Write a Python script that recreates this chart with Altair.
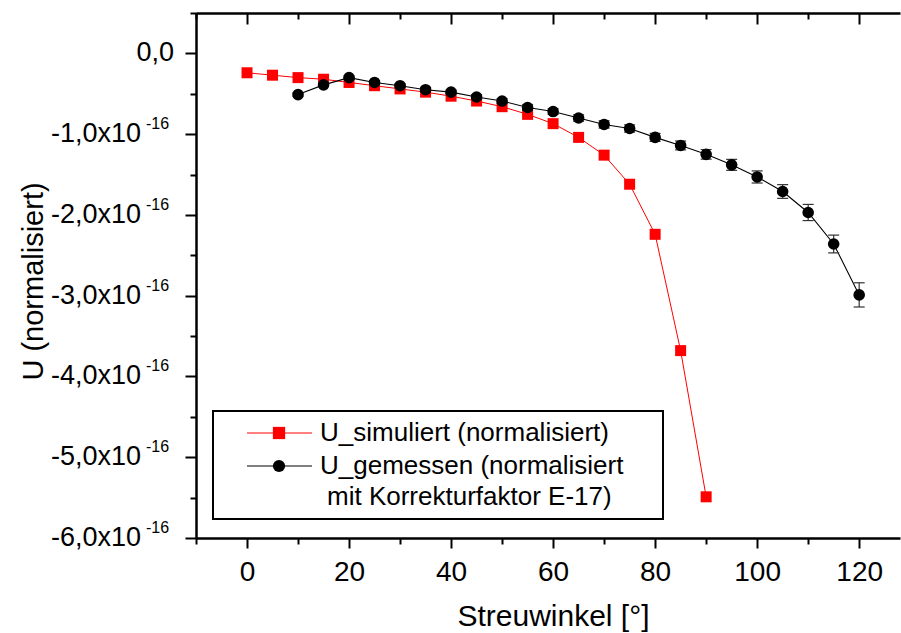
import altair as alt
import pandas as pd

FONT = "Liberation Sans"

# ---- data (values in units of 1e-16) ----
sim_angle = [0, 5, 10, 15, 20, 25, 30, 35, 40, 45, 50, 55, 60, 65, 70, 75, 80, 85, 90]
sim_u = [-0.24, -0.27, -0.30, -0.32, -0.36, -0.40, -0.44, -0.48, -0.53, -0.59,
         -0.66, -0.755, -0.87, -1.04, -1.26, -1.62, -2.24, -3.68, -5.49]

gem_angle = [10, 15, 20, 25, 30, 35, 40, 45, 50, 55, 60, 65, 70, 75, 80, 85, 90,
             95, 100, 105, 110, 115, 120]
gem_u = [-0.51, -0.39, -0.30, -0.36, -0.40, -0.45, -0.48, -0.54, -0.59, -0.67,
         -0.72, -0.80, -0.88, -0.93, -1.04, -1.14, -1.25, -1.38, -1.53, -1.71,
         -1.97, -2.36, -2.99]
gem_err = [0.02, 0.02, 0.02, 0.02, 0.02, 0.025, 0.025, 0.03, 0.03, 0.035, 0.035,
           0.04, 0.045, 0.045, 0.05, 0.055, 0.06, 0.068, 0.075, 0.085, 0.10,
           0.11, 0.15]

x_major = [0, 20, 40, 60, 80, 100, 120]
x_minor = [-10, 10, 30, 50, 70, 90, 110]
y_major = [0, -1, -2, -3, -4, -5, -6]
y_minor = [0.5, -0.5, -1.5, -2.5, -3.5, -4.5, -5.5]
y_zero_label = ["0,0"]
y_main_labels = ["-1,0x10", "-2,0x10", "-3,0x10", "-4,0x10", "-5,0x10", "-6,0x10"]
y_exp_label = "-16"

legend_labels = ["U_simuliert (normalisiert)", "U_gemessen (normalisiert", "mit Korrekturfaktor E-17)"]

sim = pd.DataFrame({"angle": sim_angle, "u": sim_u})
gem = pd.DataFrame({"angle": gem_angle, "u": gem_u, "err": gem_err})

W, H = 704, 525
xs = alt.Scale(domain=[-10, 128], nice=False, zero=False)
ys = alt.Scale(domain=[-6, 0.5], nice=False, zero=False)

ax_common = dict(domainColor="black", tickColor="black", domainWidth=2.5, tickWidth=2,
                 labelColor="black", grid=False)

x_major_axis = alt.Axis(orient="bottom", values=x_major, tickSize=10, labelPadding=10,
                        labelFontSize=28, labelFont=FONT, title="Streuwinkel [°]",
                        titleFont=FONT, titleFontSize=30, titleFontWeight="normal",
                        titleColor="black", titleX=357, titleY=87, titleBaseline="alphabetic",
                        titleAlign="center", **ax_common)
x_minor_axis = alt.Axis(orient="bottom", values=x_minor, tickSize=6, labels=False,
                        domain=False, title=None, **ax_common)
x_top_major = alt.Axis(orient="bottom", offset=-H, values=x_major, tickSize=11, labels=False,
                       title=None, **ax_common)
x_top_minor = alt.Axis(orient="bottom", offset=-H, values=x_minor, tickSize=6, labels=False,
                       domain=False, title=None, **ax_common)
y_major_axis = alt.Axis(orient="left", values=y_major, tickSize=11, labels=False,
                        title="U (normalisiert)", titleFont=FONT, titleFontSize=29,
                        titleFontWeight="normal", titleColor="black", titleAngle=270,
                        titleX=-154, titleY=268, titleBaseline="alphabetic",
                        titleAlign="center", **ax_common)
y_minor_axis = alt.Axis(orient="left", values=y_minor, tickSize=6, labels=False,
                        domain=False, title=None, **ax_common)

RED = "#ff0000"

red_line = alt.Chart(sim).mark_line(color=RED, strokeWidth=1).encode(
    x=alt.X("angle:Q", scale=xs, axis=x_major_axis),
    y=alt.Y("u:Q", scale=ys, axis=y_major_axis))
red_pts = alt.Chart(sim).mark_square(color=RED, opacity=1, size=121).encode(
    x=alt.X("angle:Q", scale=xs, axis=x_minor_axis),
    y=alt.Y("u:Q", scale=ys, axis=y_minor_axis))
blk_line = alt.Chart(gem).mark_line(color="black", strokeWidth=1.1).encode(
    x=alt.X("angle:Q", scale=xs, axis=x_top_major),
    y=alt.Y("u:Q", scale=ys, axis=None))
err_base = alt.Chart(gem).transform_calculate(
    lo="datum.u - datum.err", hi="datum.u + datum.err")
err_rule = err_base.mark_rule(color="#333333", strokeWidth=1.2).encode(
    x=alt.X("angle:Q", scale=xs, axis=None),
    y=alt.Y("lo:Q", scale=ys, axis=None), y2="hi:Q")
cap_lo = err_base.mark_tick(color="#333333", orient="horizontal", size=11, thickness=1.2, opacity=1).encode(
    x=alt.X("angle:Q", scale=xs, axis=None),
    y=alt.Y("lo:Q", scale=ys, axis=None))
cap_hi = err_base.mark_tick(color="#333333", orient="horizontal", size=11, thickness=1.2, opacity=1).encode(
    x=alt.X("angle:Q", scale=xs, axis=None),
    y=alt.Y("hi:Q", scale=ys, axis=None))
blk_pts = alt.Chart(gem).mark_circle(color="black", opacity=1, size=135).encode(
    x=alt.X("angle:Q", scale=xs, axis=x_top_minor),
    y=alt.Y("u:Q", scale=ys, axis=None))

# ---- y tick labels as text ----
lab0 = alt.Chart(pd.DataFrame({"v": y_major[:1], "t": y_zero_label})).mark_text(
    align="right", baseline="middle", fontSize=27, font=FONT, color="black").encode(
    x=alt.value(-22), y=alt.Y("v:Q", scale=ys, axis=None), text="t:N")
lab_df = pd.DataFrame({"v": y_major[1:], "t": y_main_labels, "e": [y_exp_label] * len(y_main_labels)})
lab_main = alt.Chart(lab_df).mark_text(
    align="right", baseline="middle", fontSize=27, font=FONT, color="black").encode(
    x=alt.value(-55), y=alt.Y("v:Q", scale=ys, axis=None), text="t:N")
lab_exp = alt.Chart(lab_df).mark_text(
    align="left", baseline="middle", fontSize=16, font=FONT, color="black", dy=-10).encode(
    x=alt.value(-50), y=alt.Y("v:Q", scale=ys, axis=None), text="e:N")

# ---- legend (drawn manually) ----
one = pd.DataFrame({"k": [0]})
leg_box = alt.Chart(one).mark_rect(fill="white", stroke="black", strokeWidth=2).encode(
    x=alt.value(17), x2=alt.value(467), y=alt.value(398), y2=alt.value(506))
leg_red_line = alt.Chart(one).mark_rule(color=RED, strokeWidth=1).encode(
    x=alt.value(51), x2=alt.value(116), y=alt.value(420))
leg_red_pt = alt.Chart(one).mark_square(color=RED, opacity=1, size=150).encode(
    x=alt.value(83), y=alt.value(420))
leg_blk_line = alt.Chart(one).mark_rule(color="black", strokeWidth=1).encode(
    x=alt.value(51), x2=alt.value(116), y=alt.value(453))
leg_blk_pt = alt.Chart(one).mark_circle(color="black", opacity=1, size=150).encode(
    x=alt.value(83), y=alt.value(453))
leg_t1 = alt.Chart(pd.DataFrame({"t": [legend_labels[0]]})).mark_text(
    align="left", baseline="middle", fontSize=26, font=FONT, color="black").encode(
    x=alt.value(124), y=alt.value(420), text="t:N")
leg_t2 = alt.Chart(pd.DataFrame({"t": [legend_labels[1]]})).mark_text(
    align="left", baseline="middle", fontSize=26, font=FONT, color="black").encode(
    x=alt.value(124), y=alt.value(453), text="t:N")
leg_t3 = alt.Chart(pd.DataFrame({"t": [legend_labels[2]]})).mark_text(
    align="left", baseline="middle", fontSize=26, font=FONT, color="black").encode(
    x=alt.value(131), y=alt.value(484), text="t:N")

chart = alt.layer(
    red_line, red_pts, blk_line, err_rule, cap_lo, cap_hi, blk_pts,
    lab0, lab_main, lab_exp,
    leg_box, leg_red_line, leg_red_pt, leg_blk_line, leg_blk_pt, leg_t1, leg_t2, leg_t3,
).resolve_axis(x="independent", y="independent").properties(
    width=W, height=H,
    autosize=alt.AutoSizeParams(type="none"),
    padding={"left": 196, "top": 13, "right": 1, "bottom": 95},
    background="white",
).configure_view(stroke=None)

chart.save("out.html", embed_options={"renderer": "svg", "actions": False})
